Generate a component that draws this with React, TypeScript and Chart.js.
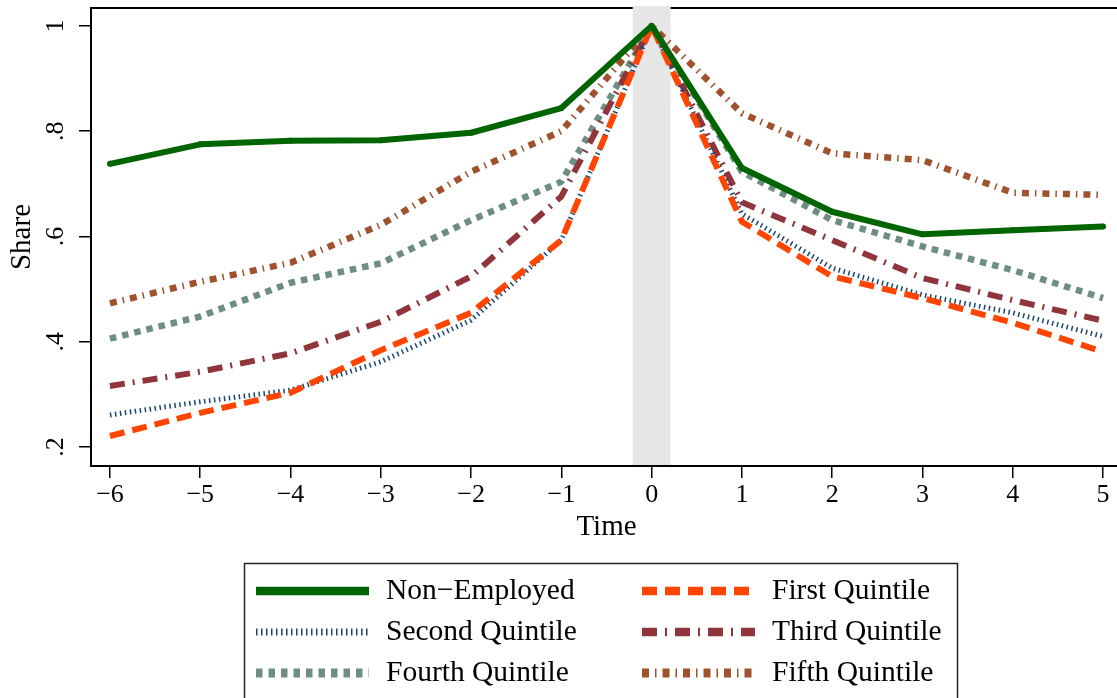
import React, { useEffect, useRef } from "react";
import { Chart, registerables } from "chart.js";

Chart.register(...registerables);

const timePoints = [-6, -5, -4, -3, -2, -1, 0, 1, 2, 3, 4, 5];
const xTickValues = [-6, -5, -4, -3, -2, -1, 0, 1, 2, 3, 4, 5];
const yTickValues = [0.2, 0.4, 0.6, 0.8, 1];

const seriesNames = [
  "Non\u2212Employed",
  "First Quintile",
  "Second Quintile",
  "Third Quintile",
  "Fourth Quintile",
  "Fifth Quintile",
];

const nonEmployed = [0.738, 0.775, 0.782, 0.783, 0.797, 0.844, 1.0, 0.73, 0.647, 0.604, 0.612, 0.619];
const firstQuintile = [0.221, 0.265, 0.303, 0.384, 0.455, 0.593, 1.0, 0.628, 0.524, 0.483, 0.436, 0.381];
const secondQuintile = [0.261, 0.286, 0.308, 0.362, 0.441, 0.593, 1.0, 0.643, 0.54, 0.489, 0.455, 0.41];
const thirdQuintile = [0.316, 0.343, 0.378, 0.438, 0.524, 0.676, 1.0, 0.665, 0.593, 0.521, 0.479, 0.44];
const fourthQuintile = [0.406, 0.448, 0.512, 0.549, 0.631, 0.704, 1.0, 0.723, 0.631, 0.581, 0.536, 0.483];
const fifthQuintile = [0.473, 0.514, 0.55, 0.622, 0.723, 0.8, 1.0, 0.834, 0.758, 0.745, 0.683, 0.679];

const shadedBand = [-0.21, 0.21];

const SERIF = "'Liberation Serif', 'Times New Roman', serif";

const styles = [
  { color: "#006400", width: 6, dash: [] as number[], point: 3 },
  { color: "#ff4500", width: 6, dash: [15, 8], point: 0 },
  { color: "#1a476f", width: 5, dash: [1.5, 3.5], point: 0 },
  { color: "#90353b", width: 6, dash: [15, 8, 2, 8], point: 0 },
  { color: "#6e8e84", width: 6.5, dash: [6.5, 6], point: 0 },
  { color: "#a0522d", width: 6.5, dash: [7, 6, 1.5, 6], point: 0 },
];

const seriesValues = [nonEmployed, firstQuintile, secondQuintile, thirdQuintile, fourthQuintile, fifthQuintile];

const bandPlugin = {
  id: "bandAndFrame",
  beforeDatasetsDraw(chart: any) {
    const { ctx, chartArea, scales } = chart;
    ctx.save();
    ctx.strokeStyle = "#000";
    ctx.lineWidth = 2;
    ctx.beginPath();
    ctx.moveTo(chartArea.left, chartArea.top);
    ctx.lineTo(chartArea.right, chartArea.top);
    ctx.lineTo(chartArea.right, chartArea.bottom);
    ctx.stroke();
    const x0 = scales.x.getPixelForValue(shadedBand[0]);
    const x1 = scales.x.getPixelForValue(shadedBand[1]);
    ctx.fillStyle = "#e6e6e6";
    ctx.fillRect(x0, chartArea.top - 2, x1 - x0, chartArea.bottom - chartArea.top + 1);
    ctx.restore();
  },
};

const legendPlugin = {
  id: "gridLegend",
  afterDraw(chart: any) {
    const { ctx } = chart;
    ctx.save();
    ctx.strokeStyle = "#222";
    ctx.lineWidth = 1.5;
    ctx.setLineDash([]);
    ctx.strokeRect(244.5, 563.5, 713, 160);
    const rowsY = [591, 632, 673];
    chart.data.datasets.forEach((ds: any, i: number) => {
      const col = i % 2;
      const row = Math.floor(i / 2);
      const sx = col ? 642 : 256;
      const tx = col ? 772 : 386;
      const y = rowsY[row];
      ctx.save();
      ctx.strokeStyle = ds.borderColor;
      ctx.lineWidth = ds.borderWidth * 1.4;
      ctx.lineCap = "butt";
      ctx.setLineDash(ds.borderDash || []);
      ctx.beginPath();
      ctx.moveTo(sx, y);
      ctx.lineTo(sx + 113, y);
      ctx.stroke();
      ctx.restore();
      ctx.fillStyle = "#000";
      ctx.font = `29.5px ${SERIF}`;
      ctx.textBaseline = "middle";
      ctx.textAlign = "left";
      ctx.fillText(ds.label, tx, y);
    });
    ctx.restore();
  },
};

export default function App() {
  const canvasRef = useRef<HTMLCanvasElement | null>(null);

  useEffect(() => {
    const canvas = canvasRef.current;
    if (!canvas) return;
    const datasets = seriesValues.map((vals, i) => ({
      label: seriesNames[i],
      data: timePoints.map((t, j) => ({ x: t, y: vals[j] })),
      borderColor: styles[i].color,
      backgroundColor: styles[i].color,
      borderWidth: styles[i].width,
      borderDash: styles[i].dash,
      borderJoinStyle: "round" as const,
      pointRadius: styles[i].point,
      pointBorderWidth: 0,
      pointBackgroundColor: styles[i].color,
      tension: 0,
      fill: false,
    }));

    const chart = new Chart(canvas, {
      type: "line",
      data: { datasets },
      plugins: [bandPlugin, legendPlugin],
      options: {
        animation: false,
        responsive: false,
        maintainAspectRatio: false,
        layout: { padding: { top: 8, left: 0, right: 2, bottom: 0 } },
        plugins: { legend: { display: false }, tooltip: { enabled: false } },
        scales: {
          x: {
            type: "linear",
            min: -6.21,
            max: 5.21,
            afterBuildTicks: (s: any) => {
              s.ticks = xTickValues.map((v) => ({ value: v }));
            },
            afterFit: (s: any) => {
              s.height = 232;
              s.paddingLeft = 0;
              s.paddingRight = 0;
            },
            ticks: {
              autoSkip: false,
              maxRotation: 0,
              minRotation: 0,
              padding: 2,
              color: "#000",
              font: { family: SERIF, size: 26 },
              callback: (v: any) => (Number(v) < 0 ? "\u2212" + Math.abs(Number(v)) : String(v)),
            },
            grid: { drawOnChartArea: false, drawTicks: true, tickLength: 12, color: "#000", lineWidth: 1.5 },
            border: { display: true, color: "#000", width: 2 },
            title: {
              display: true,
              text: "Time",
              color: "#000",
              font: { family: SERIF, size: 29 },
              padding: { top: 0, bottom: 153.6 },
            },
          },
          y: {
            type: "linear",
            min: 0.164,
            max: 1.034,
            afterBuildTicks: (s: any) => {
              s.ticks = yTickValues.map((v) => ({ value: v }));
            },
            afterFit: (s: any) => {
              s.width = 91;
              s.paddingTop = 0;
              s.paddingBottom = 0;
            },
            ticks: {
              minRotation: 90,
              maxRotation: 90,
              crossAlign: "center",
              padding: 13,
              color: "#000",
              font: { family: SERIF, size: 26 },
              callback: (v: any) => (Number(v) === 1 ? "1" : String(v).replace(/^0/, "")),
            },
            grid: { drawOnChartArea: false, drawTicks: true, tickLength: 12, color: "#000", lineWidth: 1.5 },
            border: { display: true, color: "#000", width: 2 },
            title: {
              display: true,
              text: "Share",
              color: "#000",
              font: { family: SERIF, size: 29 },
              padding: { top: 4.6, bottom: 0 },
            },
          },
        },
      },
    });
    return () => chart.destroy();
  }, []);

  return (
    <div
      style={{
        position: "fixed",
        left: 0,
        top: 0,
        width: 1117,
        height: 698,
        overflow: "hidden",
        background: "#fff",
      }}
    >
      <canvas ref={canvasRef} width={1126} height={698} style={{ display: "block" }} />
    </div>
  );
}
